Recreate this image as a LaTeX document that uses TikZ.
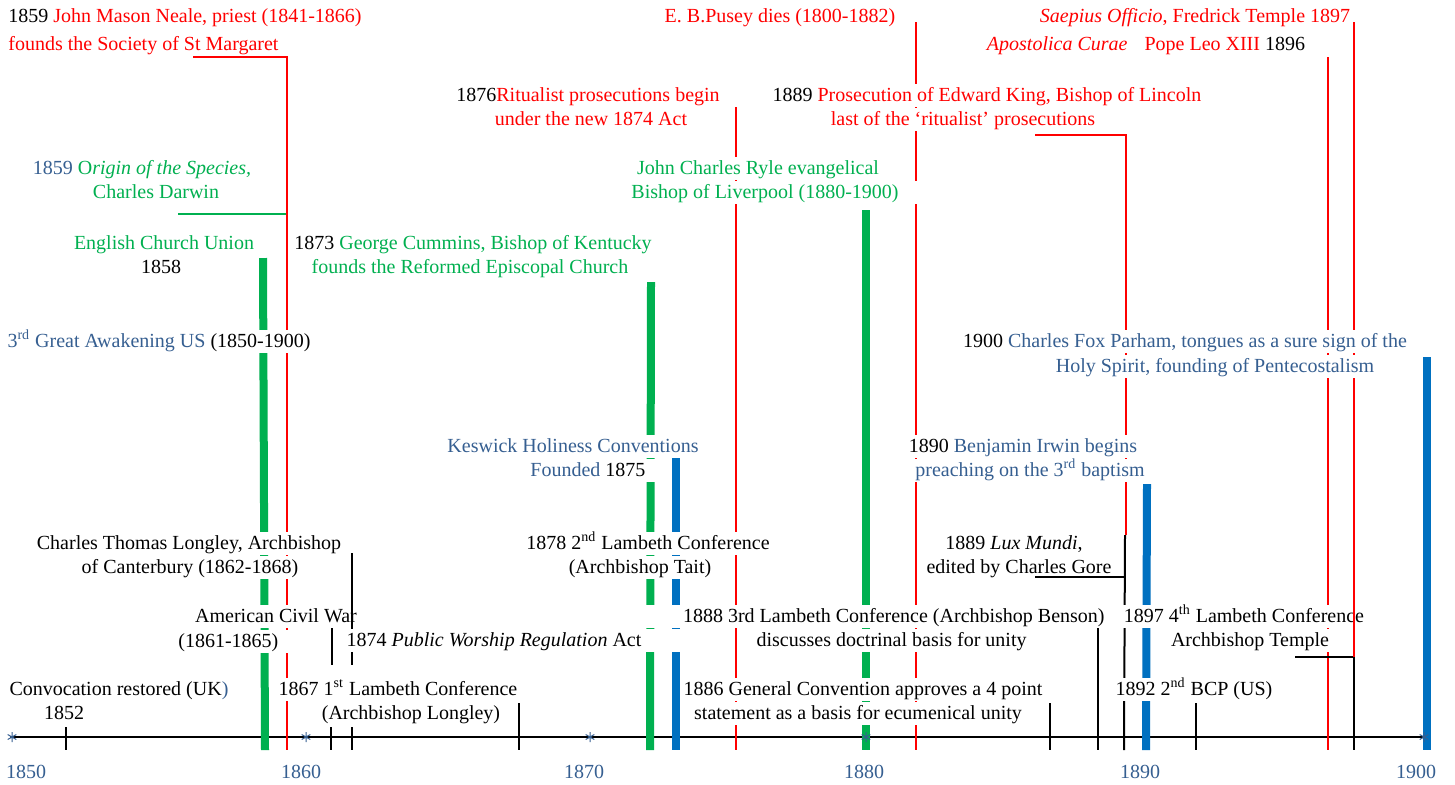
\documentclass[tikz,border=0pt]{standalone}
\usepackage{fontspec}
\setmainfont{Liberation Serif}
\definecolor{tred}{HTML}{FF0000}
\definecolor{tgreen}{HTML}{00B050}
\definecolor{tblue}{HTML}{365F91}
\definecolor{bblue}{HTML}{0070C0}
\newcommand{\cred}[1]{\textcolor{tred}{#1}}
\newcommand{\cgrn}[1]{\textcolor{tgreen}{#1}}
\newcommand{\cblu}[1]{\textcolor{tblue}{#1}}
\begin{document}
\begin{tikzpicture}[x=0.5pt,y=-0.5pt,
  lbl/.style={fill=white, inner xsep=1pt, inner ysep=0pt, text height=8.6pt,
    text depth=3pt, anchor=base, font=\fontsize{10}{12}\selectfont},
  yearlbl/.style={text=tblue, anchor=base, inner sep=0pt, font=\fontsize{10}{12}\selectfont},
  redline/.style={draw=tred, line width=1pt},
  blkline/.style={draw=black, line width=1pt},
  grnline/.style={draw=tgreen, line width=1pt},
  gbar/.style={draw=tgreen, line width=4pt},
  bbar/.style={draw=bblue, line width=4pt},
  axisline/.style={draw=black, line width=1pt},
  astk/.style={draw=tblue, line width=0.5pt}]

\useasboundingbox (0,0) rectangle (1455,784);
\fill[white] (0,0) rectangle (1455,784);

% ---------- anchor points of the connectors ----------
\coordinate (ax-w) at (10,737);   \coordinate (ax-e) at (1427,737);
% thick bars
\coordinate (ecu-top) at (263,258);  \coordinate (ecu-foot) at (265,750);
\coordinate (rec-top) at (651,282);  \coordinate (rec-foot) at (650,750);
\coordinate (kes-top) at (676,456);  \coordinate (kes-foot) at (676,750);
\coordinate (ryle-top) at (866,210); \coordinate (ryle-foot) at (866,750);
\coordinate (irw-top) at (1147,484); \coordinate (irw-foot) at (1146,750);
\coordinate (par-top) at (1427,357); \coordinate (par-foot) at (1427,750);
% red leaders
\coordinate (neale-a) at (193,57);   \coordinate (neale-b) at (287,57);  \coordinate (neale-foot) at (287,750);
\coordinate (darw-a) at (178,214);   \coordinate (darw-b) at (287,214);
\coordinate (rit-top) at (736,107);  \coordinate (rit-foot) at (736,750);
\coordinate (pus-top) at (916,22);   \coordinate (pus-foot) at (916,750);
\coordinate (pros-a) at (1035,135);  \coordinate (pros-b) at (1126,135); \coordinate (pros-c) at (1126,535);
\coordinate (leo-top) at (1328,57);  \coordinate (leo-foot) at (1328,750);
\coordinate (saep-top) at (1354,22); \coordinate (saep-b) at (1354,657);
% black leaders and ticks
\coordinate (t52-top) at (66,727);   \coordinate (t52-foot) at (66,750);
\coordinate (acw-a) at (332,627);    \coordinate (acw-b) at (332,665);
\coordinate (acw-t) at (331,727);    \coordinate (acw-foot) at (331,750);
\coordinate (lng-a) at (352,553);    \coordinate (lng-b) at (352,665);
\coordinate (lng-t) at (352,727);    \coordinate (lng-foot) at (352,750);
\coordinate (l67-top) at (519,703);  \coordinate (l67-foot) at (519,750);
\coordinate (gc-top) at (1050,703);  \coordinate (gc-foot) at (1050,750);
\coordinate (l88-top) at (1098,628); \coordinate (l88-foot) at (1098,750);
\coordinate (lux-a) at (1035,577);   \coordinate (lux-b) at (1125,577);
\coordinate (lux-top) at (1125,535); \coordinate (lux-foot) at (1124,750);
\coordinate (bcp-top) at (1196,703); \coordinate (bcp-foot) at (1196,750);
\coordinate (l97-a) at (1295,657);   \coordinate (l97-foot) at (1354,750);
% decade marks
\coordinate (as1) at (12,737);  \coordinate (as2) at (306,737); \coordinate (as3) at (590,737);
\coordinate (as4) at (866,737); \coordinate (as5) at (1424,737);

% ---------- time axis and leaders lying under the labels ----------
\draw[axisline] (ax-w) -- (ax-e);
\draw[grnline] (darw-a) -- (darw-b);
\draw[redline] (neale-a) -- (neale-b) -- (neale-foot);
\draw[redline] (pus-top) -- (pus-foot);
\draw[redline] (pros-a) -- (pros-b) -- (pros-c);
\draw[redline] (leo-top) -- (leo-foot);
\draw[blkline] (t52-top) -- (t52-foot);
\draw[blkline] (acw-a) -- (acw-b) (acw-t) -- (acw-foot);
\draw[blkline] (lng-t) -- (lng-foot);
\draw[blkline] (l67-top) -- (l67-foot);
\draw[blkline] (gc-top) -- (gc-foot);
\draw[blkline] (l88-top) -- (l88-foot);
\draw[blkline] (lux-top) -- (lux-foot);
\draw[blkline] (bcp-top) -- (bcp-foot);
\draw[blkline] (l97-a) -- (saep-b) -- (l97-foot);
\draw[gbar] (ecu-top) -- (ecu-foot);
\draw[gbar] (rec-top) -- (rec-foot);
\draw[bbar] (kes-top) -- (kes-foot);
\draw[gbar] (ryle-top) -- (ryle-foot);
\draw[bbar] (irw-top) -- (irw-foot);
\draw[bbar] (par-top) -- (par-foot);

% labels that some leaders run across
\node[lbl] (acw1) at (276,622) {American Civil War};
\node[lbl, anchor=base east] (l88b) at (1029,646) {\makebox[192.5pt][r]{discusses doctrinal basis for unity}};
\node[lbl] (l97a) at (1244,622) {1897 4\textsuperscript{th} Lambeth Conference};

% leaders drawn over those labels
\draw[redline] (rit-top) -- (rit-foot);
\draw[redline] (saep-top) -- (saep-b);
\draw[blkline] (lng-a) -- (lng-b);

% ---------- event labels ----------
\node[lbl, anchor=base west] (neale1) at (6,22) {1859 \cred{John Mason Neale, priest (1841-1866)}};
\node[lbl, anchor=base west] (neale2) at (6,50) {\cred{founds the Society of St Margaret}};
\node[lbl] (pusey) at (780,22) {\cred{E. B.Pusey dies (1800-1882)}};
\node[lbl] (saep) at (1195,22) {\cred{\textit{Saepius Officio}, Fredrick Temple 1897}};
\node[lbl] (leo) at (1146,50) {\cred{\textit{Apostolica Curae}\hspace{0.85em}Pope Leo XIII} 1896};
\node[lbl] (rit1) at (588,101) {1876\cred{Ritualist prosecutions begin}};
\node[lbl] (rit2) at (591,125) {\cred{under the new 1874 Act}};
\node[lbl] (pros1) at (987,101) {1889 \cred{Prosecution of Edward King, Bishop of Lincoln}};
\node[lbl] (pros2) at (963,125) {\cred{last of the ‘ritualist’ prosecutions}};
\node[lbl] (ryle1) at (758,174) {\cgrn{John Charles Ryle evangelical}};
\node[lbl, anchor=base west] (ryle2) at (629,198) {\makebox[146pt][l]{\cgrn{Bishop of Liverpool (1880-1900)}}};
\node[lbl] (darw1) at (142,174) {\cblu{1859} \cgrn{O\textit{rigin of the Species,}}};
\node[lbl] (darw2) at (156,198) {\cgrn{Charles Darwin}};
\node[lbl] (ecu1) at (164,249) {\cgrn{English Church Union}};
\node[lbl] (ecu2) at (161,273) {1858};
\node[lbl] (cum1) at (473,249) {1873 \cgrn{George Cummins, Bishop of Kentucky}};
\node[lbl] (cum2) at (470,273) {\cgrn{founds the Reformed Episcopal Church}};
\node[lbl] (awake) at (159,347) {\cblu{3\textsuperscript{rd} Great Awakening US} (1850-1900)};
\node[lbl] (par1) at (1185,347) {1900 \cblu{Charles Fox Parham, tongues as a sure sign of the}};
\node[lbl] (par2) at (1215,372) {\cblu{Holy Spirit, founding of Pentecostalism}};
\node[lbl] (kes1) at (573,452) {\cblu{Keswick Holiness Conventions}};
\node[lbl, anchor=base west] (kes2) at (528,476) {\makebox[63pt][l]{\cblu{Founded} 1875}};
\node[lbl] (irw1) at (1023,452) {1890 \cblu{Benjamin Irwin begins}};
\node[lbl] (irw2) at (1030,476) {\cblu{preaching on the 3\textsuperscript{rd} baptism}};
\node[lbl] (lng1) at (189,549) {Charles Thomas Longley, Archbishop};
\node[lbl] (lng2) at (190,573) {of Canterbury (1862-1868)};
\node[lbl] (l78a) at (648,549) {1878 2\textsuperscript{nd} Lambeth Conference};
\node[lbl] (l78b) at (640,573) {(Archbishop Tait)};
\node[lbl] (lux1) at (1014,549) {1889 \textit{Lux Mundi},};
\node[lbl] (lux2) at (1019,573) {edited by Charles Gore};
\node[lbl, anchor=base west] (acw2) at (176,647) {\makebox[60pt][l]{(1861-1865)}};
\node[lbl] (pwr) at (494,646) {1874 \textit{Public Worship Regulation} Act};
\node[lbl, anchor=base east] (l88a) at (1107,622) {\makebox[231.5pt][r]{1888 3rd Lambeth Conference (Archbishop Benson)}};
\node[lbl] (l97b) at (1250,646) {Archbishop Temple};
\node[lbl] (conv1) at (119,695) {Convocation restored (UK\cblu{)}};
\node[lbl] (conv2) at (64,719) {1852};
\node[lbl] (l67a) at (398,695) {1867 1\textsuperscript{st} Lambeth Conference};
\node[lbl] (l67b) at (411,719) {(Archbishop Longley)};
\node[lbl] (gc1) at (863,695) {1886 General Convention approves a 4 point};
\node[lbl] (gc2) at (858,719) {statement as a basis for ecumenical unity};
\node[lbl] (bcp) at (1194,695) {1892 2\textsuperscript{nd} BCP (US)};

% rule under the Lux Mundi label, on top of its text box
\draw[blkline] (lux-a) -- (lux-b);

% ---------- decade marks and year labels ----------
\foreach \c in {as1,as2,as3,as4,as5}
  \draw[astk] (\c) ++(0,-5) -- ++(0,10)
              (\c) ++(-4.3,-2.5) -- ++(8.6,5)
              (\c) ++(-4.3,2.5) -- ++(8.6,-5);
\node[yearlbl] (y1850) at (26,778) {1850};
\node[yearlbl] (y1860) at (301,778) {1860};
\node[yearlbl] (y1870) at (584,778) {1870};
\node[yearlbl] (y1880) at (864,778) {1880};
\node[yearlbl] (y1890) at (1140,778) {1890};
\node[yearlbl] (y1900) at (1416,778) {1900};
\end{tikzpicture}
\end{document}
